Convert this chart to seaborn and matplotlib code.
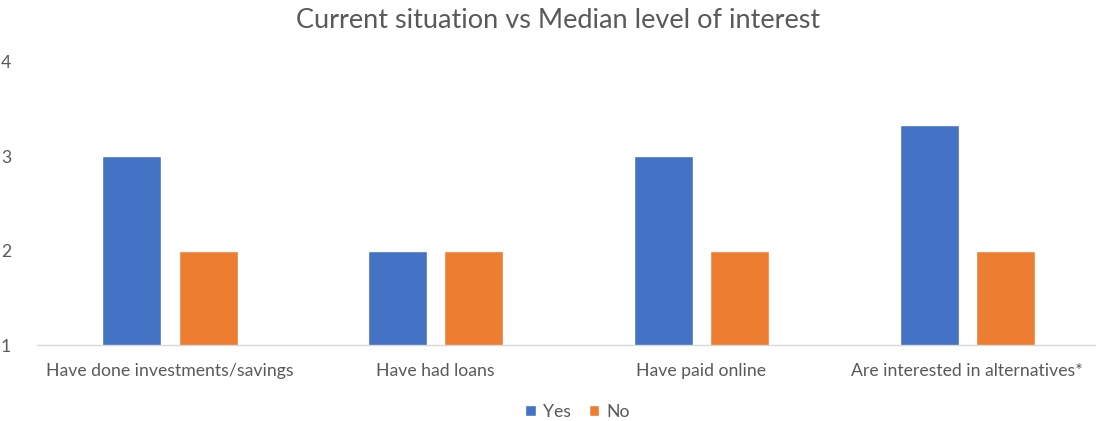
import matplotlib
matplotlib.use("Agg")
import matplotlib.pyplot as plt
import seaborn as sns
import pandas as pd

categories = ["Have done investments/savings", "Have had loans", "Have paid online", "Are interested in alternatives*"]
yes_values = [3, 2, 3, 3.33]
no_values = [2, 2, 2, 2]
series = ["Yes", "No"]
colors = ["#4472C4", "#ED7D31"]

rows = []
for c, y, n in zip(categories, yes_values, no_values):
    rows.append({"category": c, "series": "Yes", "value": y})
    rows.append({"category": c, "series": "No", "value": n})
df = pd.DataFrame(rows)

sns.set_theme(style="white")
plt.rcParams["font.family"] = ["Lato", "DejaVu Sans"]

fig = plt.figure(figsize=(10.96, 4.21), dpi=100)
ax = fig.add_axes([0.0338, 0.1805, 0.97, 0.6725])

sns.barplot(data=df, x="category", y="value", hue="series", hue_order=series,
            palette=colors, width=0.574, gap=0.225, saturation=1,
            ax=ax, legend=True)

ax.set_ylim(1, 4)
ax.set_yticks([1, 2, 3, 4])
ax.set_xlim(-0.5, 3.5)
ax.set_xlabel("")
ax.set_ylabel("")
for s in ["top", "right", "left"]:
    ax.spines[s].set_visible(False)
ax.spines["bottom"].set_color("#D9D9D9")
ax.spines["bottom"].set_linewidth(1)
ax.tick_params(axis="both", length=0, labelsize=12.7, colors="#595959")
ax.tick_params(axis="x", pad=13)
ax.tick_params(axis="y", pad=26)
for lbl in ax.get_yticklabels():
    lbl.set_horizontalalignment("left")

fig.suptitle("Current situation vs Median level of interest", x=0.509, y=0.982, fontsize=19.5, color="#595959")

handles, labels = ax.get_legend_handles_labels()
ax.legend_.remove()
fig.legend(handles, labels, loc="lower center", bbox_to_anchor=(0.527, -0.035), ncol=2,
           frameon=False, fontsize=12.7, handlelength=0.6, handleheight=0.6,
           columnspacing=1.0, handletextpad=0.4, labelcolor="#595959")

fig.savefig("out.png", dpi=100)
